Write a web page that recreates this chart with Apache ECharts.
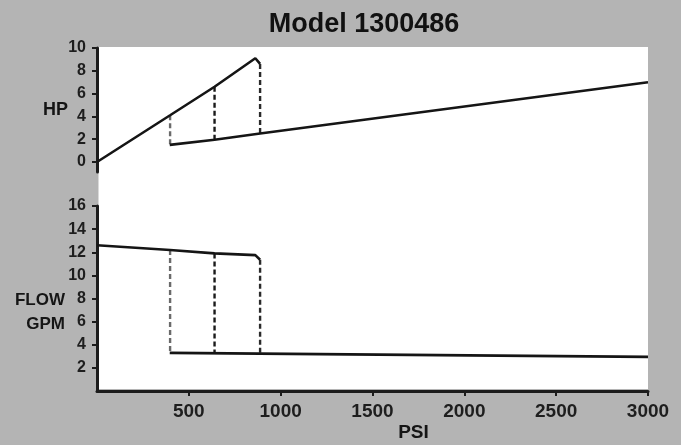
<!DOCTYPE html>
<html>
<head>
<meta charset="utf-8">
<script src="https://cdn.jsdelivr.net/npm/echarts@6/dist/echarts.min.js"></script>
<style>
html,body{margin:0;padding:0;background:#b4b4b4;}
#c{width:681px;height:445px;}
</style>
</head>
<body>
<div id="c"></div>
<script>
// ---- data ----
const titleText = 'Model 1300486';
const psiTicks = [500, 1000, 1500, 2000, 2500, 3000];
const hpTicks = [0, 2, 4, 6, 8, 10];
const flowTicks = [2, 4, 6, 8, 10, 12, 14, 16];

// HP: rising curve (open) and lower curve (after relief)
const hpRisePsi = [0, 398, 640, 862, 888];
const hpRiseVal = [0, 4.1, 6.6, 9.1, 8.6];
const hpLowPsi = [396, 640, 888, 3000];
const hpLowVal = [1.5, 1.95, 2.5, 7.0];

// FLOW: upper curve and lower curve
const flowHighPsi = [0, 398, 640, 862, 888];
const flowHighVal = [12.6, 12.2, 11.9, 11.75, 11.35];
const flowLowPsi = [396, 3000];
const flowLowVal = [3.3, 2.95];

// dashed drop lines (psi, top, bottom)
const dropPsi = [398, 640, 888];
const hpDropTop = [4.1, 6.6, 8.6];
const hpDropBottom = [1.5, 1.95, 2.5];
const flowDropTop = [12.2, 11.9, 11.35];
const flowDropBottom = [3.3, 3.3, 3.3];

// ---- styles ----
const FONT = "'Liberation Sans', Arial, sans-serif";
const ink = '#151515';
const axisInk = '#1c1c1c';
const dropColors = ['#6a6a6a', '#1a1a1a', '#2a2a2a'];

const zip = (xs, ys) => xs.map((x, i) => [x, ys[i]]);

const lineSeries = (name, xi, yi, data) => ({
  name, type: 'line', xAxisIndex: xi, yAxisIndex: yi, data,
  symbol: 'none', smooth: false, silent: true,
  lineStyle: { color: ink, width: 2.6 }, z: 3
});

const dropSeries = (prefix, xi, yi, tops, bottoms) => dropPsi.map((p, i) => ({
  name: prefix + ' drop ' + (i + 1), type: 'line', xAxisIndex: xi, yAxisIndex: yi,
  data: [[p, tops[i]], [p, bottoms[i]]],
  symbol: 'none', silent: true,
  lineStyle: { color: dropColors[i], width: 2.4, type: [5, 3] }, z: 2
}));

const tickLabelStyle = { color: '#1e1e1e', fontFamily: FONT, fontWeight: 'bold', fontSize: 16 };

const chart = echarts.init(document.getElementById('c'), null, { renderer: 'canvas' });
chart.setOption({
  backgroundColor: '#b4b4b4',
  animation: false,
  title: {
    text: titleText, left: 359, top: 6, textAlign: 'center',
    textStyle: { fontFamily: FONT, fontWeight: 'bold', fontSize: 27, color: '#111' }
  },
  graphic: [
    {
      type: 'rect', left: 98.5, top: 47, z: -10, silent: true,
      shape: { width: 549.5, height: 342 }, style: { fill: '#ffffff' }
    },
    {
      type: 'text', x: 65, y: 312, silent: true,
      style: {
        text: 'FLOW\nGPM', align: 'right', verticalAlign: 'middle', lineHeight: 24,
        font: "bold 17px 'Liberation Sans', Arial, sans-serif", fill: '#151515'
      }
    }
  ],
  grid: [
    { left: 97, top: 48, width: 551, height: 124, containLabel: false },
    { left: 97, top: 206, width: 551, height: 185, containLabel: false }
  ],
  xAxis: [
    { gridIndex: 0, type: 'value', min: 0, max: 3000, show: false },
    {
      gridIndex: 1, type: 'value', min: 0, max: 3000, interval: 500,
      name: 'PSI', nameLocation: 'middle', nameGap: 32, nameMoveOverlap: false,
      nameTextStyle: { fontFamily: FONT, fontWeight: 'bold', fontSize: 19, color: '#151515', padding: [0, 0, 0, 82] },
      axisLine: { show: true, lineStyle: { color: axisInk, width: 3 } },
      axisTick: { show: true, length: 5, customValues: psiTicks, lineStyle: { color: axisInk, width: 2 } },
      axisLabel: Object.assign({ margin: 11, customValues: psiTicks, formatter: v => String(v) }, tickLabelStyle, { fontSize: 19 }),
      splitLine: { show: false }
    }
  ],
  yAxis: [
    {
      gridIndex: 0, type: 'value', min: -0.88, max: 10,
      name: 'HP', nameLocation: 'middle', nameRotate: 0, nameGap: 29, nameMoveOverlap: false,
      nameTextStyle: { fontFamily: FONT, fontWeight: 'bold', fontSize: 18, color: '#151515' },
      axisLine: { show: true, lineStyle: { color: axisInk, width: 3 } },
      axisTick: { show: true, length: 5, customValues: hpTicks, lineStyle: { color: axisInk, width: 2 } },
      axisLabel: Object.assign({ margin: 11, customValues: hpTicks }, tickLabelStyle),
      splitLine: { show: false }
    },
    {
      gridIndex: 1, type: 'value', min: 0, max: 16, interval: 2,
      axisLine: { show: true, lineStyle: { color: axisInk, width: 3 } },
      axisTick: { show: true, length: 5, customValues: flowTicks, lineStyle: { color: axisInk, width: 2 } },
      axisLabel: Object.assign({ margin: 11, customValues: flowTicks }, tickLabelStyle),
      splitLine: { show: false }
    }
  ],
  series: [
    lineSeries('HP rise', 0, 0, zip(hpRisePsi, hpRiseVal)),
    lineSeries('HP low', 0, 0, zip(hpLowPsi, hpLowVal)),
    ...dropSeries('HP', 0, 0, hpDropTop, hpDropBottom),
    lineSeries('Flow high', 1, 1, zip(flowHighPsi, flowHighVal)),
    lineSeries('Flow low', 1, 1, zip(flowLowPsi, flowLowVal)),
    ...dropSeries('Flow', 1, 1, flowDropTop, flowDropBottom)
  ]
});
</script>
</body>
</html>
